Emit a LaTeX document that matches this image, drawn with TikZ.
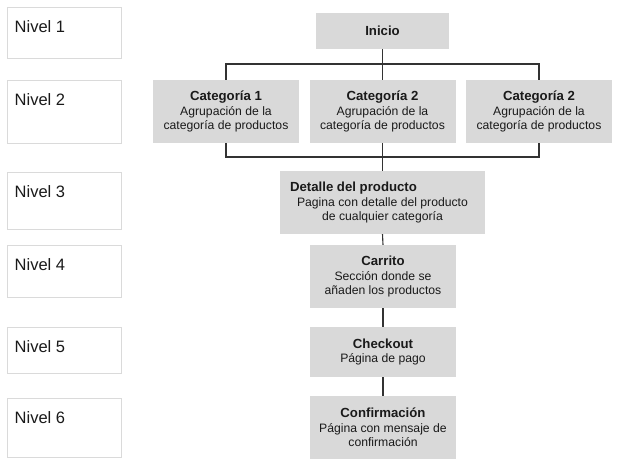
\documentclass[tikz,border=0pt]{standalone}
\usepackage{fontspec}
\setmainfont{Liberation Sans}
\definecolor{boxgray}{HTML}{D9D9D9}
\definecolor{edgegray}{HTML}{DADADA}
\definecolor{linegray}{HTML}{333333}
\definecolor{txt}{HTML}{1A1A1A}
\begin{document}
\begin{tikzpicture}[x=1pt,y=-1pt,
  pagebox/.style={fill=boxgray, draw=none, inner sep=0pt, align=center, text=txt,
    font=\fontsize{12.2}{14.5}\selectfont},
  levelbox/.style={draw=edgegray, line width=0.9pt, fill=white, minimum width=114pt, inner sep=0pt},
  leveltxt/.style={anchor=base west, inner sep=0pt, text=txt, font=\fontsize{16.5}{19}\selectfont},
  conn/.style={draw=linegray, line width=1.1pt}
]
\newcommand{\ttl}[1]{{\fontsize{13.2}{14.5}\selectfont\bfseries #1}}
\useasboundingbox (0,0) rectangle (633,466);
\fill[white] (0,0) rectangle (633,466);

% level boxes
\node[levelbox, minimum height=51pt] (n1) at (64,32.5) {};
\node[levelbox, minimum height=63pt] (n2) at (64,111.5) {};
\node[levelbox, minimum height=57pt] (n3) at (64,200.5) {};
\node[levelbox, minimum height=52pt] (n4) at (64,271) {};
\node[levelbox, minimum height=46pt] (n5) at (64,350) {};
\node[levelbox, minimum height=59pt] (n6) at (64,427.5) {};
\node[leveltxt] (t1) at ([shift={(8,25.5)}]n1.north west) {Nivel 1};
\node[leveltxt] (t2) at ([shift={(8,25.5)}]n2.north west) {Nivel 2};
\node[leveltxt] (t3) at ([shift={(8,25.5)}]n3.north west) {Nivel 3};
\node[leveltxt] (t4) at ([shift={(8,25.5)}]n4.north west) {Nivel 4};
\node[leveltxt] (t5) at ([shift={(8,25.5)}]n5.north west) {Nivel 5};
\node[leveltxt] (t6) at ([shift={(8,25.5)}]n6.north west) {Nivel 6};

% page boxes
\node[pagebox, minimum width=133pt, minimum height=36pt] (ini) at (382.5,31) {\ttl{Inicio}};
\node[pagebox, minimum width=146pt, minimum height=63pt] (c1) at (226,111.5)
  {\ttl{Categoría 1}\\Agrupación de la\\categoría de productos};
\node[pagebox, minimum width=146pt, minimum height=63pt] (c2) at (382.5,111.5)
  {\ttl{Categoría 2}\\Agrupación de la\\categoría de productos};
\node[pagebox, minimum width=146pt, minimum height=63pt] (c3) at (539,111.5)
  {\ttl{Categoría 2}\\Agrupación de la\\categoría de productos};
\node[pagebox, minimum width=205pt, minimum height=63pt] (det) at (382.5,202.5)
  {\hspace*{-58pt}\ttl{Detalle del producto}\\Pagina con detalle del producto\\de cualquier categoría};
\node[pagebox, minimum width=146pt, minimum height=63pt] (car) at (383,276.5)
  {\ttl{Carrito}\\Sección donde se\\añaden los productos};
\node[pagebox, minimum width=146pt, minimum height=50pt] (chk) at (383,352)
  {\ttl{Checkout}\\Página de pago};
\node[pagebox, minimum width=146pt, minimum height=63pt] (con) at (383,427.5)
  {\ttl{Confirmación}\\Página con mensaje de\\confirmación};

% connectors
\coordinate (tb) at (382.5,64);
\coordinate (bb) at (382.5,157);
\draw[conn] (ini.south) -- (c2.north);
\draw[conn] (c1.north) |- (tb) -| (c3.north);
\draw[conn] (c1.south) |- (bb) -| (c3.south);
\draw[conn] (c2.south) -- (det.north);
\draw[conn] (det.south) -- (car.north);
\draw[conn] (car.south) -- (chk.north);
\draw[conn] (chk.south) -- (con.north);
\end{tikzpicture}
\end{document}
